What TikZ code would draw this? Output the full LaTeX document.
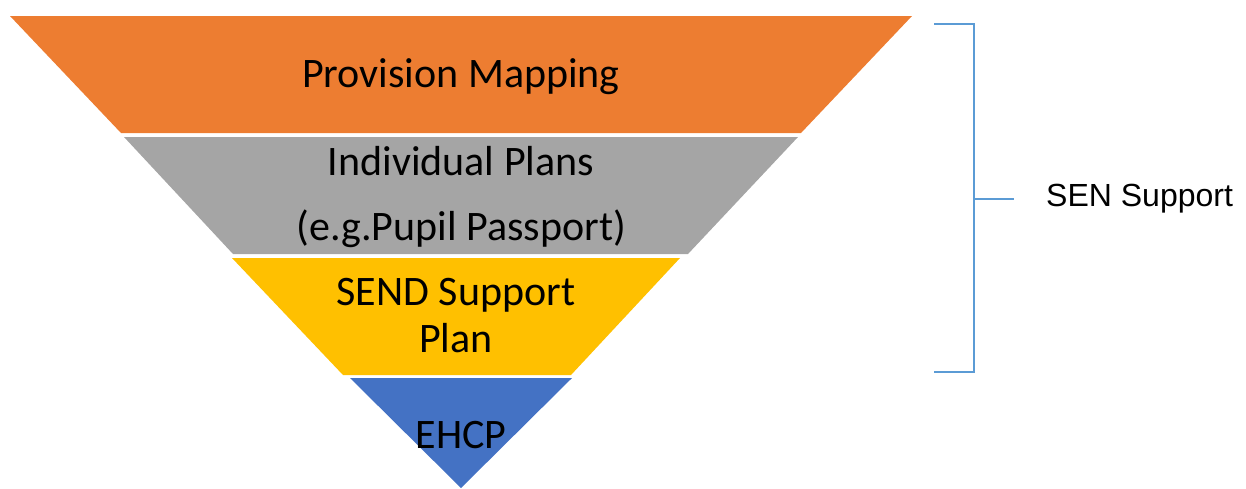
\documentclass[tikz,border=0pt]{standalone}
\usepackage{fontspec}
\setmainfont{Carlito}
\newfontfamily\arialfont{Liberation Sans}
\definecolor{orangeband}{HTML}{ED7D31}
\definecolor{grayband}{HTML}{A5A5A5}
\definecolor{yellowband}{HTML}{FFC000}
\definecolor{blueband}{HTML}{4472C4}
\definecolor{bracketblue}{HTML}{5B9BD5}
\begin{document}
\begin{tikzpicture}[x=1pt,y=-1pt,
  band/.style={draw=none},
  bandtext/.style={anchor=base,font=\fontsize{42}{50}\selectfont,text=black,inner sep=0pt},
  sidetext/.style={anchor=base west,font=\arialfont\fontsize{32}{38}\selectfont,text=black,inner sep=0pt},
  bracketline/.style={draw=bracketblue,line width=1.5pt}]
\useasboundingbox (0,0) rectangle (1246,488);
% bands
\fill[orangeband] (10,16) -- (912,16) -- (801,133) -- (121,133) -- cycle;
\fill[grayband] (124,137) -- (798,137) -- (688,254) -- (233,254) -- cycle;
\fill[yellowband] (232,258) -- (680,258) -- (571,375) -- (343,375) -- cycle;
\fill[blueband] (350,378) -- (572,378) -- (461,488) -- cycle;
% texts
\node[bandtext] (pm) at (461,87) {Provision Mapping};
\node[bandtext] (ip) at (461,175) {Individual Plans};
\node[bandtext] (pp) at (461.5,240) {(e.g.Pupil Passport)};
\node[bandtext] (ss) at (456,305) {SEND Support};
\node[bandtext] (pl) at (456,352) {Plan};
\node[bandtext] (eh) at (461,448) {EHCP};
% bracket
\coordinate (bt) at (934,24);
\coordinate (btr) at (974,24);
\coordinate (bbr) at (974,372);
\coordinate (bb) at (934,372);
\coordinate (bm) at (974,199);
\coordinate (bme) at (1014,199);
\draw[bracketline] (bt) -- (btr) -- (bbr) -- (bb);
\draw[bracketline] (bm) -- (bme);
\node[sidetext] (sen) at (1046,206) {SEN Support};
\end{tikzpicture}
\end{document}
